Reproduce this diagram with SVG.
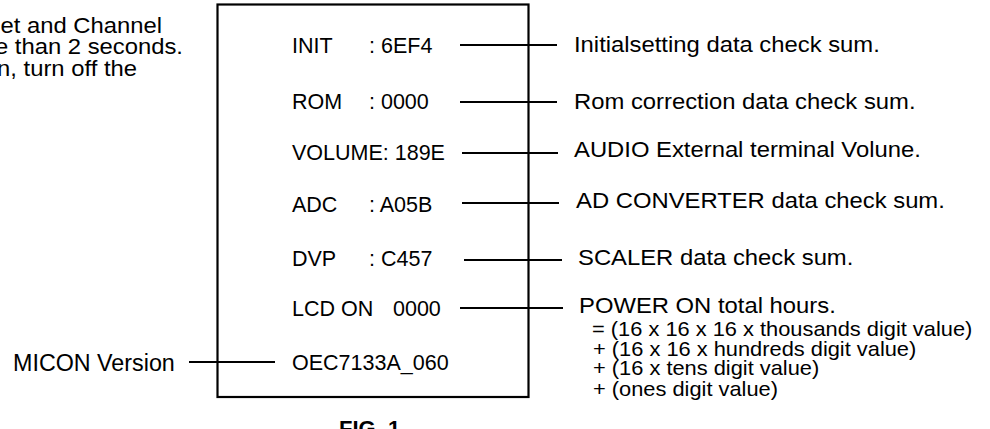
<svg xmlns="http://www.w3.org/2000/svg" width="990" height="429" viewBox="0 0 990 429">
<style>
text{font-family:"Liberation Sans",Arial,sans-serif;fill:#000}
.box{font-size:21.5px}
.desc{font-size:22px}
.form{font-size:21px}
.lead{stroke:#000;stroke-width:2;fill:none}
</style>
<rect width="990" height="429" fill="#fff"/>
<g id="note">
<text class="desc" text-anchor="end" transform="translate(162,33) scale(1.083,1)">et and Channel</text>
<text class="desc" text-anchor="end" transform="translate(183,54) scale(1.083,1)">e than 2 seconds.</text>
<text class="desc" text-anchor="end" transform="translate(137,76) scale(1.083,1)">n, turn off the</text>
</g>
<g id="panel">
<rect x="217.5" y="4.5" width="311" height="392.5" fill="none" stroke="#000" stroke-width="2.2"/>
<text class="box" x="292" y="53">INIT<tspan x="369">: 6EF4</tspan></text>
<text class="box" x="292" y="109">ROM<tspan x="369">: 0000</tspan></text>
<text class="box" x="292" y="160">VOLUME: 189E</text>
<text class="box" x="292" y="212">ADC<tspan x="369">: A05B</tspan></text>
<text class="box" x="292" y="265.5">DVP<tspan x="369">: C457</tspan></text>
<text class="box" x="292" y="316">LCD ON<tspan x="393">0000</tspan></text>
<text class="box" x="292" y="370">OEC7133A_060</text>
</g>
<g id="label-init"><text class="desc" transform="translate(574,52) scale(1.083,1)">Initialsetting data check sum.</text></g>
<g id="label-rom"><text class="desc" transform="translate(574,109) scale(1.083,1)">Rom correction data check sum.</text></g>
<g id="label-volume"><text class="desc" transform="translate(574,157) scale(1.083,1)">AUDIO External terminal Volune.</text></g>
<g id="label-adc"><text class="desc" transform="translate(576,207.5) scale(1.083,1)">AD CONVERTER data check sum.</text></g>
<g id="label-dvp"><text class="desc" transform="translate(578,265) scale(1.083,1)">SCALER  data check sum.</text></g>
<g id="label-lcd">
<text class="desc" transform="translate(579,313) scale(1.083,1)">POWER ON total hours.</text>
<text class="form" transform="translate(592,336) scale(1.04,1)">= (16 x 16 x 16 x thousands digit value)</text>
<text class="form" transform="translate(593,355.5) scale(1.04,1)">+ (16 x 16 x hundreds digit value)</text>
<text class="form" transform="translate(593,375) scale(1.04,1)">+ (16 x tens digit value)</text>
<text class="form" transform="translate(593,396) scale(1.04,1)">+ (ones digit value)</text>
</g>
<g id="label-micon"><text x="13" y="370.5" style="font-size:23.3px">MICON Version</text></g>
<g id="caption"><text x="339" y="436" style="font-size:22px;font-weight:bold">FIG. 1</text></g>
<g id="connectors" class="lead">
<line x1="460" y1="45" x2="557" y2="45"/>
<line x1="460" y1="102" x2="557" y2="102"/>
<line x1="462" y1="153" x2="558" y2="153"/>
<line x1="462" y1="203" x2="559" y2="203"/>
<line x1="464" y1="260" x2="562" y2="260"/>
<line x1="460" y1="308" x2="563" y2="308"/>
<line x1="189" y1="362" x2="275" y2="362"/>
</g>
</svg>
